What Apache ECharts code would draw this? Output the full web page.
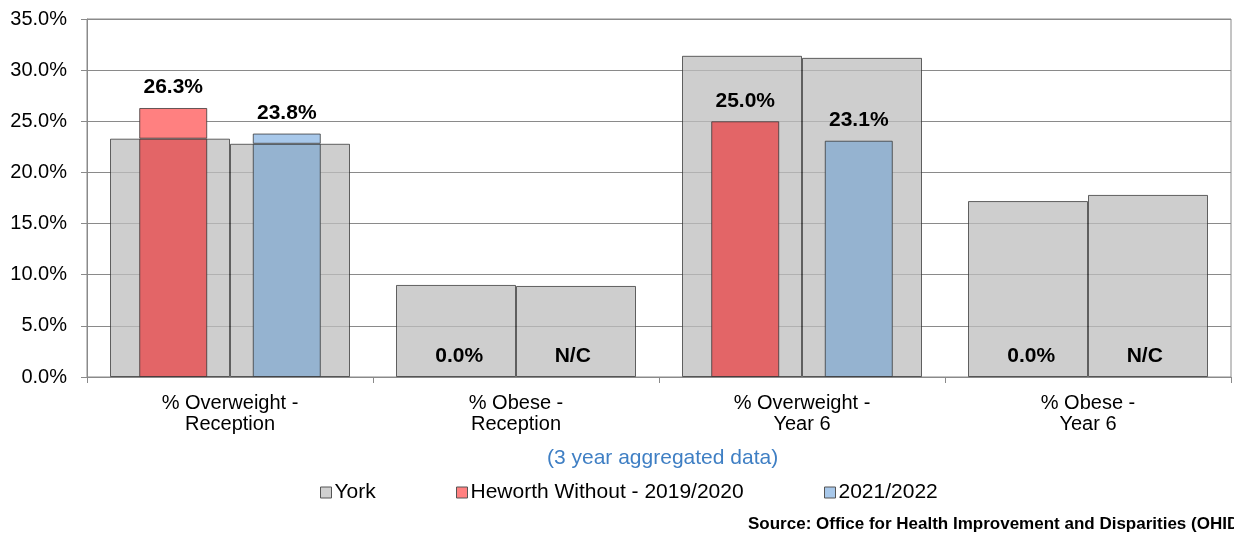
<!DOCTYPE html>
<html><head><meta charset="utf-8">
<script src="https://cdn.jsdelivr.net/npm/echarts@6/dist/echarts.min.js"></script>
<style>html,body{margin:0;padding:0;background:#fff}#c{width:1234px;height:535px}</style>
</head><body><div id="c"></div>
<script>
const categories = ['% Overweight -\nReception', '% Obese -\nReception', '% Overweight -\nYear 6', '% Obese -\nYear 6'];
const york1920 = [23.3, 9.0, 31.4, 17.2];
const york2122 = [22.8, 8.9, 31.2, 17.8];
const heworth1920 = [26.3, 0.0, 25.0, 0.0];
const heworth2122 = [23.8, null, 23.1, null];
const yTicks = [0, 5, 10, 15, 20, 25, 30, 35];

const FONT = 'Liberation Sans, Arial, sans-serif';
const item = v => v === 0 ? {value: 0, itemStyle: {borderWidth: 0, opacity: 0}} : v;
const lowPart = (vals, york) => vals.map((v, i) => item(Math.min(v == null ? 0 : v, york[i])));
const highPart = (vals, york) => vals.map((v, i) => item(Math.max(0, (v == null ? 0 : v) - york[i])));
const fmt = (vals) => p => { const v = vals[p.dataIndex]; return v == null ? 'N/C' : v.toFixed(1) + '%'; };

const border = {borderColor: 'rgba(50,50,50,0.75)', borderWidth: 1};
const lbl = vals => ({show: true, position: 'top', distance: 10, formatter: fmt(vals), opacity: 1,
  fontFamily: FONT, fontSize: 21, fontWeight: 'bold', color: '#000'});

const chart = echarts.init(document.getElementById('c'));
const legendText = {fontFamily: FONT, fontSize: 21, color: '#000', padding: [0, 0, 0, -2]};
chart.setOption({
  animation: false,
  grid: {left: 87, right: 3, top: 19, bottom: 158, show: true, borderColor: '#8a8a8a', borderWidth: 1},
  xAxis: [
    {type: 'category', data: categories,
     axisLine: {lineStyle: {color: '#8a8a8a'}},
     axisTick: {show: true, length: 6, lineStyle: {color: '#8a8a8a'}},
     axisLabel: {fontFamily: FONT, fontSize: 20, color: '#000', lineHeight: 21, margin: 16}},
    {type: 'category', data: categories, show: false}
  ],
  yAxis: {type: 'value', min: yTicks[0], max: yTicks[yTicks.length - 1], interval: 5,
    axisLine: {show: true, lineStyle: {color: '#8a8a8a'}},
    axisTick: {show: true, length: 6, lineStyle: {color: '#8a8a8a'}},
    splitLine: {lineStyle: {color: '#8a8a8a'}},
    axisLabel: {fontFamily: FONT, fontSize: 20, color: '#000', margin: 20, formatter: v => v.toFixed(1) + '%'}},
  legend: [
    {left: 315, top: 477, itemWidth: 11, itemHeight: 11, icon: 'rect', textStyle: legendText,
     data: [{name: 'York', itemStyle: {color: '#d0d0d0', borderColor: '#555', borderWidth: 1}}]},
    {left: 451, top: 477, itemWidth: 11, itemHeight: 11, icon: 'rect', textStyle: legendText,
     data: [{name: 'Heworth Without - 2019/2020', itemStyle: {color: '#ff8080', borderColor: '#555', borderWidth: 1}}]},
    {left: 819, top: 477, itemWidth: 11, itemHeight: 11, icon: 'rect', textStyle: legendText,
     data: [{name: '2021/2022', itemStyle: {color: '#a8c8ea', borderColor: '#555', borderWidth: 1}}]}
  ],
  graphic: [
    {type: 'text', left: 547, top: 448, style: {text: '(3 year aggregated data)', fill: '#3f7fc4', font: '21px ' + FONT}},
    {type: 'text', left: 748, top: 516, style: {text: 'Source: Office for Health Improvement and Disparities (OHID)', fill: '#000', font: 'bold 17px ' + FONT}}
  ],
  series: [
    {name: 'York', type: 'bar', xAxisIndex: 0, data: york1920, barWidth: 120, barGap: '0%', z: 2,
     itemStyle: Object.assign({color: 'rgba(190,190,190,0.75)'}, border)},
    {name: 'York', type: 'bar', xAxisIndex: 0, data: york2122, barWidth: 120, barGap: '0%', z: 2,
     itemStyle: Object.assign({color: 'rgba(190,190,190,0.75)'}, border)},
    {name: 'Heworth Without - 2019/2020', type: 'bar', xAxisIndex: 1, stack: 'h1', data: lowPart(heworth1920, york1920),
     barWidth: 68, barGap: '67%', z: 3, itemStyle: Object.assign({color: '#e36567'}, border)},
    {name: 'Heworth Without - 2019/2020', type: 'bar', xAxisIndex: 1, stack: 'h1', data: highPart(heworth1920, york1920),
     barWidth: 68, barGap: '67%', z: 3, itemStyle: Object.assign({color: '#ff8080'}, border), label: lbl(heworth1920)},
    {name: '2021/2022', type: 'bar', xAxisIndex: 1, stack: 'h2', data: lowPart(heworth2122, york2122),
     barWidth: 68, barGap: '67%', z: 3, itemStyle: Object.assign({color: '#95b3d0'}, border)},
    {name: '2021/2022', type: 'bar', xAxisIndex: 1, stack: 'h2', data: highPart(heworth2122, york2122),
     barWidth: 68, barGap: '67%', z: 3, itemStyle: Object.assign({color: '#a8c8ea'}, border), label: lbl(heworth2122)}
  ]
});
</script></body></html>
